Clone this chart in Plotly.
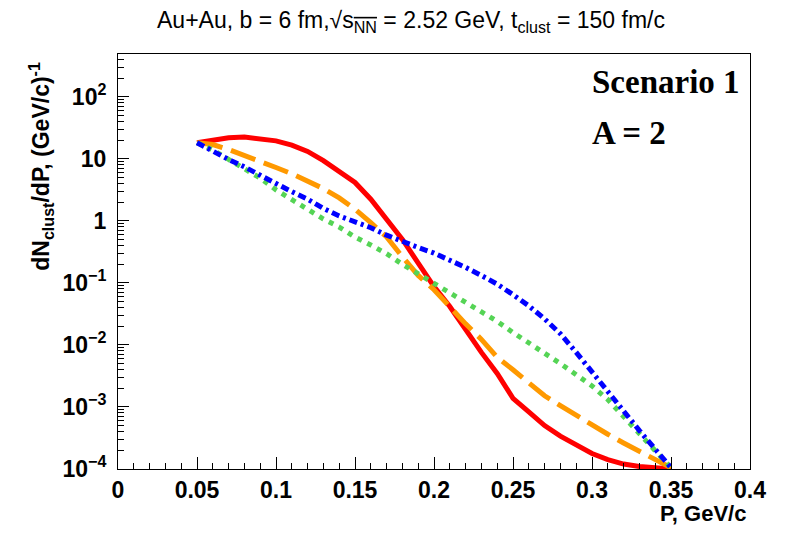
import numpy as np
import plotly.graph_objects as go

# ======================================================
# dados, log10 de dN/dP
# ======================================================
p = [0.05, 0.06, 0.07, 0.08, 0.09, 0.10, 0.11, 0.12, 0.13, 0.14, 0.15,
     0.16, 0.17, 0.18, 0.19, 0.20, 0.21, 0.22, 0.23, 0.24, 0.25,
     0.26, 0.27, 0.28, 0.29, 0.30, 0.31, 0.32, 0.33, 0.34, 0.35]

log_red = [1.26, 1.31, 1.34, 1.35, 1.33, 1.29, 1.22, 1.12, 0.97, 0.80, 0.62,
           0.35, 0.04, -0.30, -0.68, -1.06, -1.38, -1.76, -2.12, -2.46, -2.86,
           -3.08, -3.30, -3.47, -3.62, -3.75, -3.85, -3.92, -3.96, -3.98, -4.0]

log_orange = [1.26, 1.23, 1.15, 1.06, 0.95, 0.86, 0.76, 0.65, 0.52, 0.37, 0.19,
              -0.03, -0.26, -0.58, -0.88, -1.11, -1.39, -1.66, -1.91, -2.20, -2.40,
              -2.62, -2.82, -2.98, -3.14, -3.30, -3.44, -3.58, -3.71, -3.85, -3.98]

log_green = [1.26, 1.145, 0.99, 0.85, 0.69, 0.50, 0.34, 0.18, 0.03, -0.10, -0.26,
             -0.39, -0.53, -0.70, -0.85, -1.00, -1.15, -1.30, -1.46, -1.62, -1.80,
             -1.96, -2.14, -2.30, -2.48, -2.66, -2.88, -3.15, -3.42, -3.70, -3.98]

log_blue = [1.26, 1.12, 0.99, 0.87, 0.73, 0.59, 0.47, 0.35, 0.20, 0.08, -0.01,
            -0.11, -0.23, -0.34, -0.43, -0.52, -0.63, -0.75, -0.88, -1.02, -1.19,
            -1.37, -1.58, -1.82, -2.12, -2.44, -2.76, -3.06, -3.38, -3.68, -3.98]

x_ticks = [0, 0.05, 0.1, 0.15, 0.2, 0.25, 0.3, 0.35, 0.4]
x_ticktext = ["0", "0.05", "0.1", "0.15", "0.2", "0.25", "0.3", "0.35", "0.4"]
y_ticks = [1e-4, 1e-3, 1e-2, 1e-1, 1, 10, 100]
y_ticktext = ["10<sup>\u22124</sup>", "10<sup>\u22123</sup>", "10<sup>\u22122</sup>",
              "10<sup>\u22121</sup>", "1", "10", "10<sup>2</sup>"]

curvas = [
    (log_red, "#ff0000", "solid"),
    (log_orange, "#ff9900", "26px,9px"),
    (log_green, "#55d455", "5px,6px"),
    (log_blue, "#0000ff", "8px,4px,3px,4px"),
]

FONTE = "Liberation Sans"

fig = go.Figure()
for vals, cor, traco in curvas:
    fig.add_trace(go.Scatter(x=p, y=np.power(10.0, vals), mode="lines",
                             line=dict(color=cor, width=5, dash=traco),
                             showlegend=False))

minor_y = [m * 10.0 ** k for k in range(-4, 3) for m in range(2, 10)]

fig.update_xaxes(range=[0, 0.4], tickvals=x_ticks, ticktext=x_ticktext,
                 ticks="inside", ticklen=12, tickcolor="black",
                 minor=dict(ticks="inside", ticklen=6, dtick=0.01, tick0=0, tickcolor="black"),
                 showline=True, linecolor="black", linewidth=1, mirror=True,
                 showgrid=False, zeroline=False, ticklabelstandoff=0,
                 tickfont=dict(family=FONTE, size=23, color="black", weight="bold"))

fig.update_yaxes(type="log", range=[-4, 2.69], tickvals=y_ticks, ticktext=y_ticktext,
                 ticks="inside", ticklen=11, tickcolor="black",
                 minor=dict(ticks="inside", ticklen=6, tickvals=minor_y, tickcolor="black"),
                 showline=True, linecolor="black", linewidth=1, mirror=True,
                 showgrid=False, zeroline=False, ticklabelstandoff=6,
                 tickfont=dict(family=FONTE, size=23, color="black", weight="bold"))

# titulo
fig.add_annotation(text="Au+Au, b = 6 fm,\u221a<span style='text-decoration:overline'>s<sub>NN</sub></span> = 2.52 GeV, t<sub>clust</sub> = 150 fm/c",
                   xref="paper", yref="paper", x=0.463, y=1.0, yshift=33,
                   xanchor="center", yanchor="middle", showarrow=False,
                   font=dict(family=FONTE, size=23, color="black"))

# eixo y titulo
fig.add_annotation(text="<b>dN<sub>clust</sub>/dP, (GeV/c)<sup>-1</sup></b>",
                   xref="paper", yref="paper", x=-0.123, y=0.9855,
                   xanchor="center", yanchor="top", textangle=-90, showarrow=False,
                   font=dict(family=FONTE, size=23, color="black"))

# eixo x titulo
fig.add_annotation(text="<b>P, GeV/c</b>", xref="paper", yref="paper",
                   x=0.997, y=-0.107, xanchor="right", yanchor="middle", showarrow=False,
                   font=dict(family=FONTE, size=22, color="black"))

fig.add_annotation(text="<b>Scenario 1</b>", xref="paper", yref="paper",
                   x=0.747, y=0.9325, xanchor="left", yanchor="middle", showarrow=False,
                   font=dict(family="Liberation Serif", size=33, color="black"))
fig.add_annotation(text="<b>A = 2</b>", xref="paper", yref="paper",
                   x=0.747, y=0.81, xanchor="left", yanchor="middle", showarrow=False,
                   font=dict(family="Liberation Serif", size=33, color="black"))

# a página tem 8 px de margem no body: compensado nas margens
fig.update_layout(width=788, height=534,
                  margin=dict(l=110, r=46, t=46, b=73),
                  paper_bgcolor="white", plot_bgcolor="white",
                  showlegend=False)

fig.write_html("out.html")
